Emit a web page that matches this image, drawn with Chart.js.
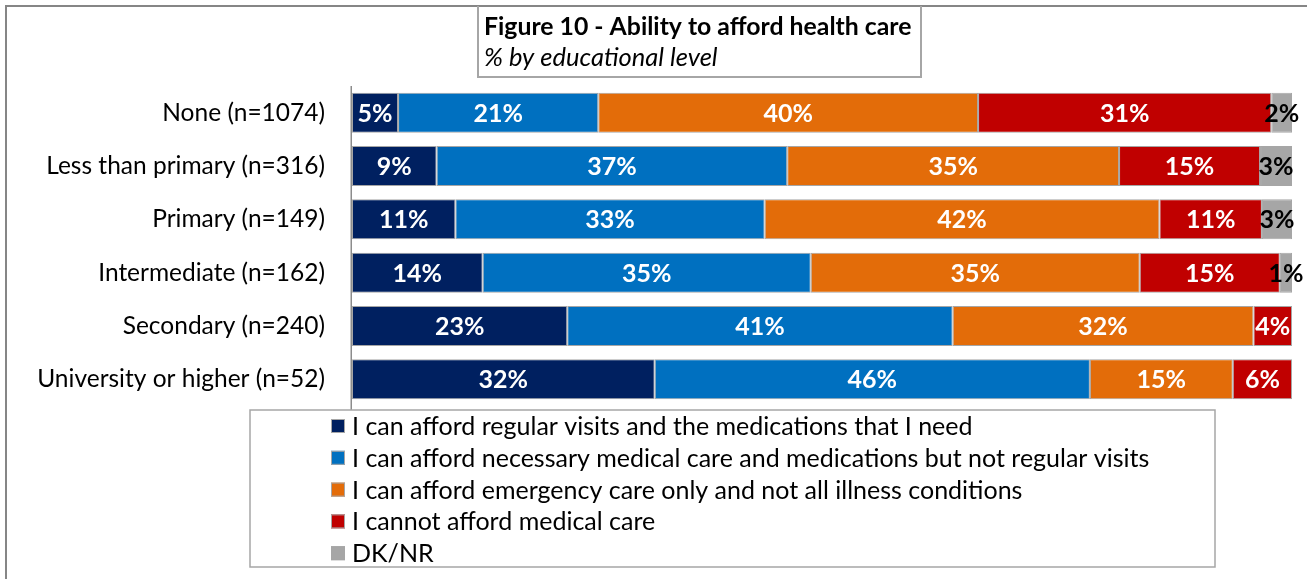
<!DOCTYPE html>
<html><head><meta charset="utf-8">
<script src="https://cdn.jsdelivr.net/npm/chart.js@4"></script>
<style>html,body{margin:0;padding:0;background:#fff;overflow:hidden}#wrap{width:1307px;height:579px;position:relative}</style>
</head><body><div id="wrap"><canvas id="c" width="1307" height="579"></canvas></div>
<script>
const categories = ['None (n=1074)', 'Less than primary (n=316)', 'Primary (n=149)', 'Intermediate (n=162)', 'Secondary (n=240)', 'University or higher (n=52)'];
const seriesNames = [
  'I can afford regular visits and the medications that I need',
  'I can afford necessary medical care and medications but not regular visits',
  'I can afford emergency care only and not all illness conditions',
  'I cannot afford medical care',
  'DK/NR'
];
const affordRegular   = [4.9, 9.0, 11.0, 13.9, 22.9, 32.2];
const affordNecessary = [21.3, 37.3, 32.9, 34.9, 41.0, 46.3];
const emergencyOnly   = [40.4, 35.3, 42.0, 35.0, 32.0, 15.2];
const cannotAfford    = [31.2, 15.0, 10.9, 14.9, 4.1, 6.3];
const dkNr            = [2.2, 3.4, 3.2, 1.3, 0, 0];
const titleText = 'Figure 10 - Ability to afford health care';
const subtitleText = '% by educational level';

const colors = ['#002060', '#0070C0', '#E36C09', '#C00000', '#A6A6A6'];
const seriesValues = [affordRegular, affordNecessary, emergencyOnly, cannotAfford, dkNr];
const FONT = 'Lato, "Liberation Sans", sans-serif';

const datasets = seriesValues.map((vals, i) => ({
  label: seriesNames[i],
  data: vals,
  backgroundColor: colors[i],
  borderColor: '#A6A6A6',
  borderWidth: 1,
  borderSkipped: false,
  barPercentage: 0.75,
  categoryPercentage: 1.0
}));

const decor = {
  id: 'decor',
  beforeDraw(chart) {
    const ctx = chart.ctx;
    ctx.save();
    ctx.fillStyle = '#fff';
    ctx.fillRect(0, 0, chart.width, chart.height);
    ctx.restore();
  },
  afterDatasetsDraw(chart) {
    const ctx = chart.ctx;
    ctx.save();
    ctx.font = 'bold 25px ' + FONT;
    ctx.textAlign = 'center';
    ctx.textBaseline = 'middle';
    chart.data.datasets.forEach((ds, di) => {
      const meta = chart.getDatasetMeta(di);
      meta.data.forEach((el, i) => {
        const v = ds.data[i];
        if (!v) return;
        const p = el.getCenterPoint();
        ctx.fillStyle = di === 4 ? '#000' : '#fff';
        ctx.fillText(Math.round(v) + '%', p.x, p.y + 1);
      });
    });
    ctx.restore();
  },
  afterDraw(chart) {
    const ctx = chart.ctx;
    const ca = chart.chartArea;
    ctx.save();
    // axis line
    ctx.strokeStyle = '#8C8C8C';
    ctx.lineWidth = 1.5;
    ctx.beginPath();
    ctx.moveTo(ca.left - 0.75, ca.top);
    ctx.lineTo(ca.left - 0.75, 410);
    ctx.stroke();
    // outer border
    ctx.strokeStyle = '#868686';
    ctx.lineWidth = 2;
    ctx.strokeRect(6, 6, 1400, 700);
    // title box
    ctx.fillStyle = '#fff';
    ctx.fillRect(478, 7, 443, 70);
    ctx.strokeStyle = '#A6A6A6';
    ctx.lineWidth = 2;
    ctx.beginPath();
    ctx.moveTo(478, 6); ctx.lineTo(478, 77); ctx.lineTo(921, 77); ctx.lineTo(921, 6);
    ctx.stroke();
    ctx.fillStyle = '#000';
    ctx.textAlign = 'left';
    ctx.textBaseline = 'alphabetic';
    ctx.font = 'bold 24.8px ' + FONT;
    ctx.fillText(titleText, 484, 35);
    ctx.font = 'italic 25.5px ' + FONT;
    ctx.fillText(subtitleText, 484, 66);
    // legend box
    ctx.fillStyle = '#fff';
    ctx.fillRect(250, 410, 965, 157);
    ctx.strokeStyle = '#A6A6A6';
    ctx.lineWidth = 1.5;
    ctx.strokeRect(250, 410, 965, 157);
    ctx.font = '25px ' + FONT;
    ctx.textBaseline = 'middle';
    chart.data.datasets.forEach((ds, i) => {
      const cy = 426 + i * 31.8;
      ctx.fillStyle = ds.backgroundColor;
      ctx.fillRect(331, cy - 7, 14, 14);
      ctx.strokeStyle = '#A6A6A6';
      ctx.lineWidth = 1;
      ctx.strokeRect(331.5, cy - 6.5, 13, 13);
      ctx.fillStyle = '#000';
      ctx.fillText(ds.label, 352, cy + 1);
    });
    ctx.restore();
  }
};

new Chart(document.getElementById('c'), {
  type: 'bar',
  data: { labels: categories, datasets },
  plugins: [decor],
  options: {
    indexAxis: 'y',
    responsive: false,
    animation: false,
    devicePixelRatio: 1,
    layout: { padding: { left: 0, top: 86, right: 15, bottom: 173 } },
    plugins: { legend: { display: false }, tooltip: { enabled: false }, title: { display: false } },
    scales: {
      x: { stacked: true, min: 0, max: 100, display: false },
      y: {
        stacked: true,
        grid: { display: false, drawTicks: false },
        border: { display: false },
        ticks: { color: '#000', padding: 27, font: { family: FONT, size: 24.5 } },
        afterFit(scale) { scale.width = 352; }
      }
    }
  }
});
</script></body></html>
